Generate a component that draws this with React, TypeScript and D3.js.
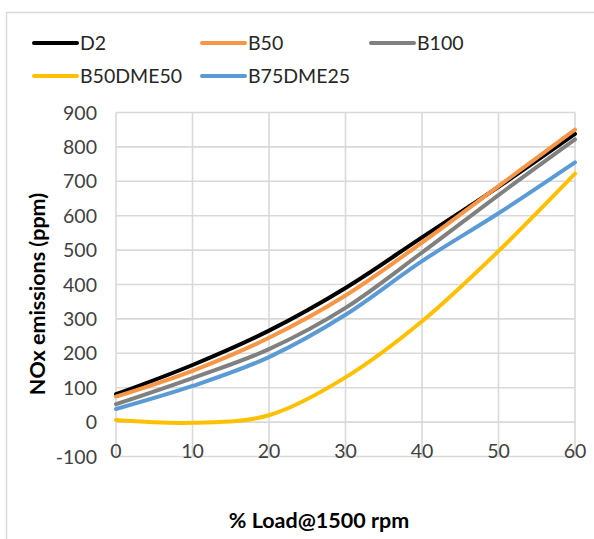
import React from "react";
import * as d3 from "d3";

const loads = [0, 10, 20, 30, 40, 50, 60];
const d2 = [81, 166, 266, 390, 537, 684, 838];
const b50 = [74, 149, 245, 368, 522, 686, 850];
const b100 = [52, 128, 212, 332, 493, 660, 822];
const b50dme50 = [6, -2, 20, 130, 293, 497, 722];
const b75dme25 = [38, 105, 189, 312, 468, 607, 755];
const yTicks = [-100, 0, 100, 200, 300, 400, 500, 600, 700, 800, 900];
const xTicks = [0, 10, 20, 30, 40, 50, 60];

const seriesNames = ["D2", "B50", "B100", "B50DME50", "B75DME25"];
const seriesValues = [d2, b50, b100, b50dme50, b75dme25];
const seriesColors = ["#000000", "#F79646", "#808080", "#FFC000", "#5B9BD5"];

const FONT = "Lato, 'Open Sans', sans-serif";

export default function App() {
  const W = 594, H = 539;
  const left = 116, right = 575, top = 112.5, bottom = 456.5;
  const x = d3.scaleLinear().domain([0, 60]).range([left, right]);
  const y = d3.scaleLinear().domain([-100, 900]).range([bottom, top]);
  const line = d3
    .line<number>()
    .x((_, i) => x(loads[i]))
    .y((v) => y(v))
    .curve(d3.curveCatmullRom.alpha(0));

  const order = [0, 1, 2, 3, 4];

  const legendPos = [
    { x: 34, y: 43 },
    { x: 202, y: 43 },
    { x: 371, y: 43 },
    { x: 34, y: 76 },
    { x: 202, y: 76 },
  ];

  return (
    <svg
      width={W}
      height={H}
      style={{ position: "absolute", left: 0, top: 0, background: "#fff" }}
      fontFamily={FONT}
    >
      <rect x={0} y={0} width={W} height={H} fill="#fff" />
      <rect x={6.5} y={12.5} width={700} height={700} fill="none" stroke="#d9d9d9" strokeWidth={1.5} />
      {yTicks.map((t) => (
        <line key={"gy" + t} x1={left} x2={right} y1={y(t)} y2={y(t)} stroke="#d9d9d9" strokeWidth={1.6} />
      ))}
      {xTicks.map((t) => (
        <line key={"gx" + t} x1={x(t)} x2={x(t)} y1={top} y2={bottom} stroke="#d9d9d9" strokeWidth={1.6} />
      ))}
      {yTicks.map((t) => (
        <text key={"ty" + t} x={97} y={y(t)} dy="0.36em" textAnchor="end" fontSize={19.5} fill="#404040">
          {t}
        </text>
      ))}
      {xTicks.map((t) => (
        <text key={"tx" + t} x={x(t)} y={458} textAnchor="middle" fontSize={19.5} fill="#404040">
          {t}
        </text>
      ))}
      {order.map((i) => (
        <path
          key={seriesNames[i]}
          d={line(seriesValues[i]) || ""}
          fill="none"
          stroke={seriesColors[i]}
          strokeWidth={4}
          strokeLinecap="round"
          strokeLinejoin="round"
        />
      ))}
      {seriesNames.map((n, i) => (
        <g key={"lg" + n}>
          <line
            x1={legendPos[i].x}
            x2={legendPos[i].x + 43}
            y1={legendPos[i].y}
            y2={legendPos[i].y}
            stroke={seriesColors[i]}
            strokeWidth={4}
            strokeLinecap="round"
          />
          <text x={legendPos[i].x + 46} y={legendPos[i].y} dy="0.36em" fontSize={19.5} fill="#262626">
            {n}
          </text>
        </g>
      ))}
      <text
        transform={`translate(45, 294) rotate(-90)`}
        textAnchor="middle"
        fontSize={21.5}
        fontWeight="bold"
        fill="#000"
      >
        NOx emissions (ppm)
      </text>
      <text x={319} y={528} textAnchor="middle" fontSize={21.5} fontWeight="bold" fill="#000">
        % Load@1500 rpm
      </text>
    </svg>
  );
}
